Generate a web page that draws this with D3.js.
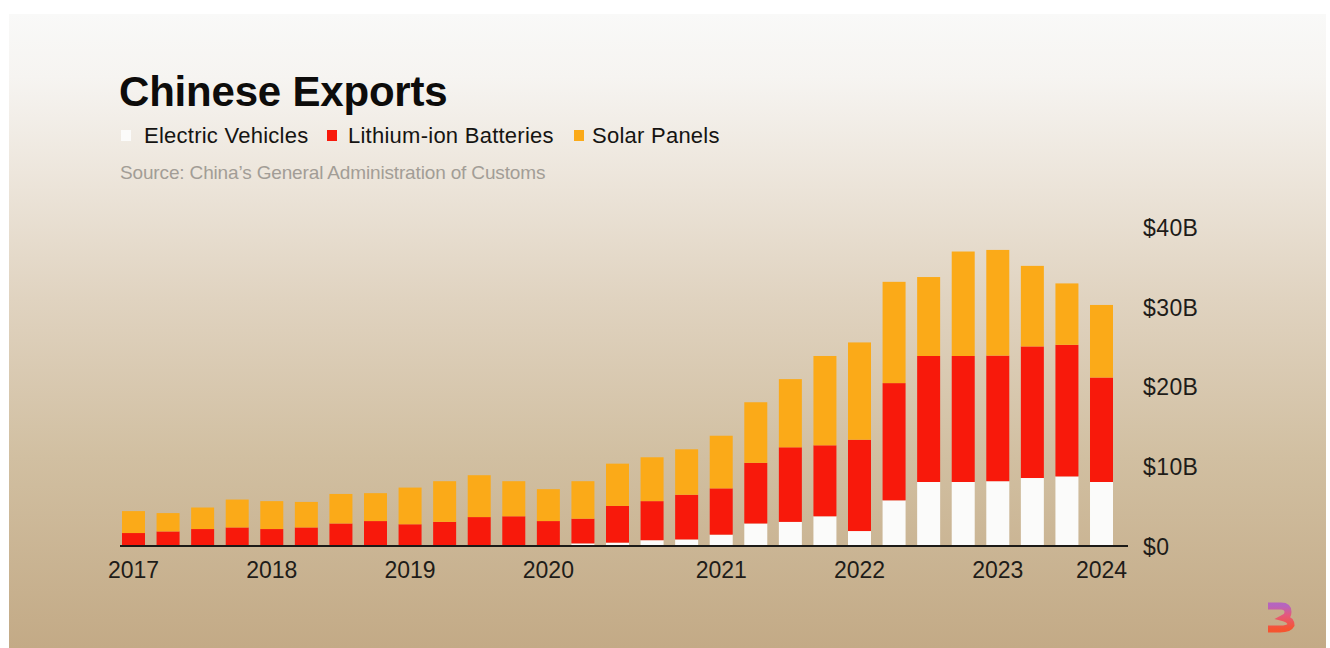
<!DOCTYPE html>
<html><head><meta charset="utf-8">
<script src="https://cdn.jsdelivr.net/npm/d3@7"></script>
<style>html,body{margin:0;padding:0;background:#fff;} svg{display:block;font-family:"Liberation Sans",Arial,Helvetica,sans-serif;}</style>
</head><body>
<svg id="chart" width="1330" height="648"></svg>
<script>
// ---- data (US$ billions, quarterly) ----
const periods = ["2017 Q1","2017 Q2","2017 Q3","2017 Q4","2018 Q1","2018 Q2","2018 Q3","2018 Q4",
  "2019 Q1","2019 Q2","2019 Q3","2019 Q4","2020 Q1","2020 Q2","2020 Q3","2020 Q4",
  "2021 Q1","2021 Q2","2021 Q3","2021 Q4","2022 Q1","2022 Q2","2022 Q3","2022 Q4",
  "2023 Q1","2023 Q2","2023 Q3","2023 Q4","2024 Q1"];
const electricVehicles = [0,0,0,0,0,0,0,0, 0,0,0,0,0,0.2,0.3,0.6, 0.7,1.3,2.7,2.9,3.6,1.75,5.6,7.9, 7.9,8.0,8.4,8.6,7.9];
const lithiumBatteries = [1.5,1.7,2.0,2.2,2.0,2.2,2.7,3.0, 2.6,2.9,3.5,3.6,3.0,3.1,4.6,4.9, 5.6,5.8,7.6,9.35,8.9,11.45,14.7,15.8, 15.8,15.75,16.5,16.5,13.1];
const solarPanels = [2.75,2.3,2.7,3.5,3.5,3.2,3.7,3.5, 4.6,5.1,5.25,4.4,4.0,4.7,5.3,5.5, 5.7,6.6,7.6,8.55,11.2,12.2,12.7,9.9, 13.1,13.25,10.1,7.7,9.1];
const seriesNames = ["Electric Vehicles","Lithium-ion Batteries","Solar Panels"];
const seriesColors = ["#fbfbfa","#f8190b","#fbaa18"];
const yTicks = [0,10,20,30,40];
const yTickLabels = ["$0","$10B","$20B","$30B","$40B"];
const xTickPeriods = ["2017 Q1","2018 Q1","2019 Q1","2020 Q1","2021 Q2","2022 Q2","2023 Q2","2024 Q1"];
const xTickLabels = ["2017","2018","2019","2020","2021","2022","2023","2024"];
const titleText = "Chinese Exports";
const sourceText = "Source: China\u2019s General Administration of Customs";

// ---- build ----
const svg = d3.select("#chart");
const defs = svg.append("defs");
const bg = defs.append("linearGradient").attr("id","bg").attr("x1",0).attr("y1",0).attr("x2",0).attr("y2",1);
[[0,"#f9f9f8"],[0.1,"#f6f4f1"],[0.25,"#ede6dc"],[0.45,"#e0d3c0"],[0.7,"#d1bfa1"],[1,"#c3aa86"]]
  .forEach(([o,c])=>bg.append("stop").attr("offset",o).attr("stop-color",c));
const lg = defs.append("linearGradient").attr("id","logo").attr("x1",0).attr("y1",0).attr("x2",0).attr("y2",1);
[[0,"#b45cc4"],[0.4,"#e9507a"],[1,"#fb4a26"]].forEach(([o,c])=>lg.append("stop").attr("offset",o).attr("stop-color",c));

svg.append("rect").attr("width",1330).attr("height",648).attr("fill","#ffffff");
svg.append("rect").attr("x",9).attr("y",14).attr("width",1317).attr("height",634).attr("fill","url(#bg)");

const x = d3.scaleBand().domain(periods).range([122,1113]).paddingInner(0.335).paddingOuter(0);
const y = d3.scaleLinear().domain([0,40]).range([545,226]);

const table = periods.map((p,i)=>({period:p, ev:electricVehicles[i], bat:lithiumBatteries[i], sol:solarPanels[i]}));
const keys = ["ev","bat","sol"];
const stacked = d3.stack().keys(keys)(table);

svg.append("g").selectAll("g").data(stacked).join("g")
  .attr("fill",(d,i)=>seriesColors[i])
  .selectAll("rect").data(d=>d).join("rect")
  .attr("x",d=>x(d.data.period))
  .attr("width",x.bandwidth())
  .attr("y",d=>y(d[1]))
  .attr("height",d=>Math.max(0,y(d[0])-y(d[1])));

// baseline
svg.append("line").attr("x1",x.range()[0]-2).attr("x2",x.range()[1]+15)
  .attr("y1",y(0)+1).attr("y2",y(0)+1).attr("stroke","#1c1a17").attr("stroke-width",2);

// y axis
const yAxis = d3.axisRight(y).tickValues(yTicks).tickSize(0).tickPadding(0)
  .tickFormat((d,i)=>yTickLabels[i]);
const gy = svg.append("g").attr("transform","translate(1143,2)").call(yAxis);
gy.select(".domain").remove();
gy.selectAll("text").attr("font-size",23).attr("fill","#1e1c19").attr("font-family","Liberation Sans, Arial, sans-serif").attr("letter-spacing","0.4");

// x axis
const xAxis = d3.axisBottom(x).tickValues(xTickPeriods).tickSize(0).tickPadding(0)
  .tickFormat(d=>xTickLabels[xTickPeriods.indexOf(d)]);
const gx = svg.append("g").attr("transform","translate(0,562)").call(xAxis);
gx.select(".domain").remove();
gx.selectAll("text").attr("font-size",23).attr("fill","#1e1c19").attr("font-family","Liberation Sans, Arial, sans-serif");

// title
svg.append("text").attr("x",119).attr("y",106).text(titleText)
  .attr("font-size",42).attr("font-weight","bold").attr("fill","#0d0c0b").attr("letter-spacing","-0.2");

// legend
const legendX = [121,327,574];
const legendTextX = [144,348,592];
const lg2 = svg.append("g");
seriesNames.forEach((n,i)=>{
  lg2.append("rect").attr("x",legendX[i]).attr("y",130).attr("width",10).attr("height",11).attr("fill",seriesColors[i]);
  lg2.append("text").attr("x",legendTextX[i]).attr("y",143).text(n).attr("font-size",22).attr("fill","#151412").attr("letter-spacing","0.25");
});

// source
svg.append("text").attr("x",120).attr("y",179).text(sourceText)
  .attr("font-size",19).attr("fill","#a29d96").attr("letter-spacing","-0.15");

// logo
svg.append("path").attr("d","M1268,606 H1281 Q1288,606 1288,612 Q1288,616 1284,618 Q1291,620 1291,625 Q1289,629 1280,629 H1268")
  .attr("fill","none").attr("stroke","url(#logo)").attr("stroke-width",7).attr("stroke-linecap","butt").attr("opacity",0.9);
</script>
</body></html>
